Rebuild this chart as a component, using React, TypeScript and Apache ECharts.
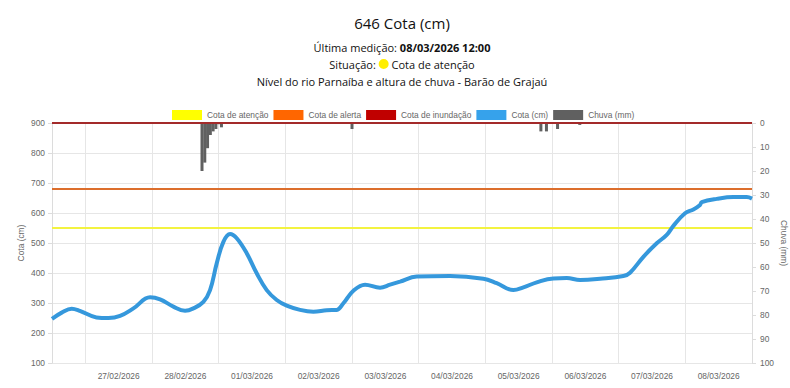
import React, { useEffect, useRef } from 'react';
import * as echarts from 'echarts';

// Tick labels (each label sits at noon of its day)
const DAY_LABELS = ['27/02/2026', '28/02/2026', '01/03/2026', '02/03/2026', '03/03/2026', '04/03/2026', '05/03/2026', '06/03/2026', '07/03/2026', '08/03/2026'];

// x values are hours since 26/02/2026 12:00
const X_MIN = 0;
const X_MAX = 252;

const COTA_HOURS = [0, 3.5, 7.1, 10, 16, 20.3, 24.5, 29.3, 35.3, 38.9, 43.7, 47.9, 50.9, 54.5, 56.9, 59.3, 61.7, 64.1, 66.5, 70.1, 73.7, 77.3, 80.9, 84.5, 89.3, 94.1, 98.9, 102.5, 104.9, 108.5, 112.7, 118.1, 121.7, 125.3, 131.3, 143.3, 155.3, 160.1, 166.1, 169.7, 174.5, 180.5, 185.3, 190.1, 197.3, 205.7, 208.1, 212.9, 217.7, 221.3, 223.7, 227.9, 230.9, 233.3, 233.9, 239.3, 245.3, 250.1, 252];
const COTA_VALUES = [247, 268, 281, 274, 252, 250, 257, 282, 319, 312, 288, 274, 282, 304, 343, 432, 504, 530, 516, 466, 399, 343, 310, 291, 277, 271, 276, 277, 299, 341, 361, 351, 361, 371, 388, 390, 381, 366, 343, 352, 369, 382, 383, 377, 381, 390, 401, 454, 499, 527, 557, 599, 612, 627, 636, 647, 653, 653, 648];

const CHUVA_HOURS = [29, 54, 55, 56, 57, 58, 59, 60, 61, 108, 176, 178, 182, 190];
const CHUVA_VALUES = [0.4, 20, 16.5, 10.5, 5, 3.5, 2.5, 0.5, 1.8, 2.5, 3.5, 3.5, 2.5, 0.8];

const COTA_ATENCAO = 550;
const COTA_ALERTA = 680;
const COTA_INUNDACAO = 900;

const TITLE = '646 Cota (cm)';
const ULTIMA_LABEL = 'Última medição: ';
const ULTIMA_VALUE = '08/03/2026 12:00';
const SITUACAO = 'Cota de atenção';
const SUBTITLE = 'Nível do rio Parnaíba e altura de chuva - Barão de Grajaú';

const AXIS_FONT = '"Liberation Sans", Arial, sans-serif';
const TITLE_FONT = '"Open Sans", "Noto Sans", sans-serif';
const GRID_COLOR = '#e6e6e6';
const LABEL_COLOR = '#666';

export default function App() {
  const ref = useRef<HTMLDivElement>(null);
  useEffect(() => {
    if (!ref.current) return;
    const chart = echarts.init(ref.current, undefined, { renderer: 'svg' });
    const cota = COTA_HOURS.map((h, i) => [h, COTA_VALUES[i]]);
    const chuva = CHUVA_HOURS.map((h, i) => [h, CHUVA_VALUES[i]]);
    const refLine = (v: number) => [[X_MIN, v], [X_MAX, v]];
    const cx = 402;
    chart.setOption({
      animation: false,
      backgroundColor: '#fff',
      graphic: [
        { type: 'text', x: cx, y: 23, style: { text: TITLE, font: `15px ${TITLE_FONT}`, fill: '#111', textAlign: 'center', textVerticalAlign: 'middle', align: 'center', verticalAlign: 'middle' } },
        {
          type: 'text', x: cx, y: 47,
          style: {
            text: `{n|${ULTIMA_LABEL}}{b|${ULTIMA_VALUE}}`,
            textAlign: 'center', textVerticalAlign: 'middle', align: 'center', verticalAlign: 'middle',
            rich: {
              n: { fontFamily: TITLE_FONT, fontSize: 11, fill: '#111', color: '#111' },
              b: { fontFamily: TITLE_FONT, fontSize: 11, fontWeight: 'bold', fill: '#111', color: '#111' },
            },
          },
        },
        {
          type: 'text', x: cx, y: 64,
          style: {
            text: `{n|Situação: }{dot|}{n| ${SITUACAO}}`,
            textAlign: 'center', textVerticalAlign: 'middle', align: 'center', verticalAlign: 'middle',
            rich: {
              n: { fontFamily: TITLE_FONT, fontSize: 11, fill: '#111', color: '#111' },
              dot: { width: 10, height: 10, backgroundColor: '#ffee00', borderRadius: 5 },
            },
          },
        },
        { type: 'text', x: cx, y: 81, style: { text: SUBTITLE, font: `11px ${TITLE_FONT}`, fill: '#111', textAlign: 'center', textVerticalAlign: 'middle', align: 'center', verticalAlign: 'middle' } },
      ],
      legend: {
        top: 105,
        left: 167,
        itemWidth: 30,
        itemHeight: 10,
        itemGap: 5,
        icon: 'rect',
        textStyle: { color: LABEL_COLOR, fontSize: 8.4, fontFamily: AXIS_FONT },
        data: ['Cota de atenção', 'Cota de alerta', 'Cota de inundação', 'Cota (cm)', 'Chuva (mm)'],
      },
      grid: { left: 52, right: 38, top: 123, bottom: 25, containLabel: false, outerBoundsMode: 'none' },
      xAxis: [
        {
          type: 'value', min: X_MIN, max: X_MAX, interval: 24, position: 'bottom',
          axisLine: { show: true, lineStyle: { color: '#dcdcdc' } },
          axisTick: { show: false },
          splitLine: { show: false },
          axisLabel: {
            color: LABEL_COLOR, fontSize: 8.4, fontFamily: AXIS_FONT, margin: 9,
            showMinLabel: false, showMaxLabel: false,
            formatter: (v: number) => {
              if (v === 0 || v % 24 !== 0) return '';
              return DAY_LABELS[v / 24 - 1] ?? '';
            },
          },
        },
        {
          // grid lines at midnight: counted from the right edge (09/03 00:00)
          type: 'value', min: 0, max: X_MAX, interval: 24, inverse: true, position: 'top',
          axisLine: { show: false }, axisTick: { show: false }, axisLabel: { show: false },
          splitLine: { show: true, lineStyle: { color: GRID_COLOR } },
        },
      ],
      yAxis: [
        {
          type: 'value', min: 100, max: 900, interval: 100, position: 'left',
          name: 'Cota (cm)', nameLocation: 'middle', nameGap: 27, nameRotate: 90, nameMoveOverlap: false,
          nameTextStyle: { color: LABEL_COLOR, fontSize: 8.4, fontFamily: AXIS_FONT },
          axisLine: { show: true, lineStyle: { color: '#dcdcdc' } },
          axisTick: { show: true, length: 4, lineStyle: { color: '#dcdcdc' } },
          splitLine: { show: true, lineStyle: { color: GRID_COLOR } },
          axisLabel: { color: LABEL_COLOR, fontSize: 8.4, fontFamily: AXIS_FONT, margin: 7 },
        },
        {
          type: 'value', min: 0, max: 100, interval: 10, inverse: true, position: 'right',
          name: 'Chuva (mm)', nameLocation: 'middle', nameGap: 28, nameRotate: -90, nameMoveOverlap: false,
          nameTextStyle: { color: LABEL_COLOR, fontSize: 8.4, fontFamily: AXIS_FONT },
          axisLine: { show: true, lineStyle: { color: '#dcdcdc' } },
          axisTick: { show: true, length: 4, lineStyle: { color: '#dcdcdc' } },
          splitLine: { show: false },
          axisLabel: { color: LABEL_COLOR, fontSize: 8.4, fontFamily: AXIS_FONT, margin: 8 },
        },
      ],
      series: [
        {
          name: 'Chuva (mm)', type: 'bar', xAxisIndex: 0, yAxisIndex: 1, data: chuva,
          barWidth: 3, itemStyle: { color: '#606060' }, z: 1,
        },
        {
          name: 'Cota de atenção', type: 'line', xAxisIndex: 0, yAxisIndex: 0, data: refLine(COTA_ATENCAO),
          showSymbol: false, symbol: 'none', itemStyle: { color: '#ffff00' }, lineStyle: { color: '#f3f340', width: 2 }, z: 2,
        },
        {
          name: 'Cota de alerta', type: 'line', xAxisIndex: 0, yAxisIndex: 0, data: refLine(COTA_ALERTA),
          showSymbol: false, symbol: 'none', itemStyle: { color: '#ff6600' }, lineStyle: { color: '#dc6e2c', width: 2 }, z: 2,
        },
        {
          name: 'Cota de inundação', type: 'line', xAxisIndex: 0, yAxisIndex: 0, data: refLine(COTA_INUNDACAO),
          showSymbol: false, symbol: 'none', itemStyle: { color: '#c00000' }, lineStyle: { color: '#a32a2a', width: 2 }, z: 3,
        },
        {
          name: 'Cota (cm)', type: 'line', xAxisIndex: 0, yAxisIndex: 0, data: cota,
          smooth: 0.4, showSymbol: false, symbol: 'none',
          itemStyle: { color: '#36a2eb' }, lineStyle: { color: '#3598dc', width: 4 }, z: 4,
        },
      ],
    });
    return () => chart.dispose();
  }, []);
  return <div ref={ref} style={{ position: 'absolute', left: 0, top: 0, width: 790, height: 388 }} />;
}
